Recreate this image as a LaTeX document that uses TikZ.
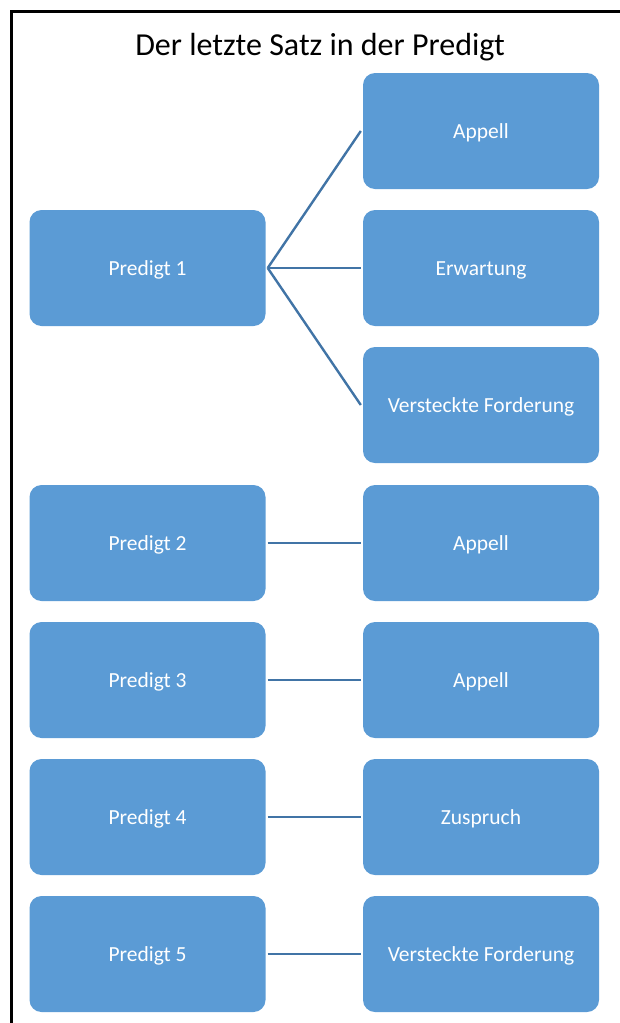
\documentclass[tikz,border=0pt]{standalone}
\usepackage{fontspec}
\setmainfont{Carlito}
\definecolor{boxblue}{HTML}{5B9BD5}
\definecolor{linkblue}{HTML}{4174A6}
\begin{document}
\begin{tikzpicture}[x=1pt,y=-1pt,
  card/.style={rectangle, rounded corners=12pt, fill=boxblue, draw=none,
    minimum width=236pt, minimum height=116pt, inner sep=0pt,
    text height=19pt, text depth=5pt,
    text=white, font=\fontsize{21.5}{25}\selectfont},
  link/.style={draw=linkblue, line width=2.4pt}]
\useasboundingbox (0,0) rectangle (619,1023);
% outer frame, running past the right and bottom edges
\draw[line width=3pt] (11,1040) -- (11,11) -- (640,11);
\node (title) at (320,47) {\fontsize{32}{36}\selectfont Der letzte Satz in der Predigt};
% left column
\node[card] (p1) at (147.5,268) {Predigt 1};
\node[card] (p2) at (147.5,543) {Predigt 2};
\node[card] (p3) at (147.5,680) {Predigt 3};
\node[card] (p4) at (147.5,817) {Predigt 4};
\node[card] (p5) at (147.5,954) {Predigt 5};
% right column
\node[card] (r1) at (481,131) {Appell};
\node[card] (r2) at (481,268) {Erwartung};
\node[card] (r3) at (481,405) {Versteckte Forderung};
\node[card] (r4) at (481,543) {Appell};
\node[card] (r5) at (481,680) {Appell};
\node[card] (r6) at (481,817) {Zuspruch};
\node[card] (r7) at (481,954) {Versteckte Forderung};
% connectors
\draw[link] ([xshift=2pt]p1.east) -- ([xshift=-2pt]r1.west);
\draw[link] ([xshift=2pt]p1.east) -- ([xshift=-2pt]r2.west);
\draw[link] ([xshift=2pt]p1.east) -- ([xshift=-2pt]r3.west);
\draw[link] ([xshift=2pt]p2.east) -- ([xshift=-2pt]r4.west);
\draw[link] ([xshift=2pt]p3.east) -- ([xshift=-2pt]r5.west);
\draw[link] ([xshift=2pt]p4.east) -- ([xshift=-2pt]r6.west);
\draw[link] ([xshift=2pt]p5.east) -- ([xshift=-2pt]r7.west);
\end{tikzpicture}
\end{document}
